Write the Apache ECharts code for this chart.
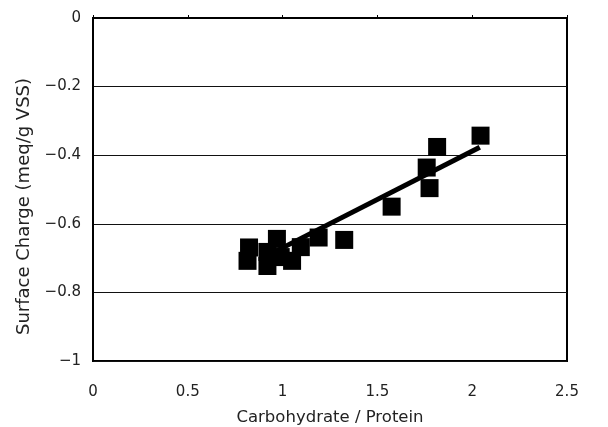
<!DOCTYPE html>
<html>
<head>
<meta charset="utf-8">
<script src="https://cdn.jsdelivr.net/npm/echarts@6/dist/echarts.min.js"></script>
<style>
html,body{margin:0;padding:0;background:#fff;}
#chart{width:608px;height:427px;}
</style>
</head>
<body>
<div id="chart"></div>
<script>
// Data
var ratioX = [0.815, 0.823, 0.92, 0.92, 0.97, 0.99, 1.05, 1.096, 1.19, 1.325, 1.575, 1.76, 1.775, 1.815, 2.044];
var chargeY = [-0.708, -0.669, -0.723, -0.682, -0.644, -0.697, -0.708, -0.668, -0.640, -0.647, -0.550, -0.436, -0.496, -0.376, -0.343];
var trendX = [0.95, 2.04];
var trendY = [-0.684, -0.377];
var xTicks = [0, 0.5, 1, 1.5, 2, 2.5];
var yTicks = [0, -0.2, -0.4, -0.6, -0.8, -1];

var points = ratioX.map(function (x, i) { return [x, chargeY[i]]; });
var trend = trendX.map(function (x, i) { return [x, trendY[i]]; });

var font = '"DejaVu Sans", Verdana, sans-serif';
var chart = echarts.init(document.getElementById('chart'), null, { renderer: 'canvas' });
chart.setOption({
  backgroundColor: '#ffffff',
  animation: false,
  grid: { left: 93, right: 41, top: 18, bottom: 66, containLabel: false, outerBoundsMode: 'none',
    show: true, borderColor: '#000', borderWidth: 2, backgroundColor: 'transparent' },
  xAxis: {
    type: 'value', min: xTicks[0], max: xTicks[xTicks.length - 1], interval: 0.5,
    name: 'Carbohydrate / Protein', nameLocation: 'middle', nameGap: 48,
    nameTextStyle: { fontFamily: font, fontSize: 16.5, color: '#222' },
    axisLine: { show: true, lineStyle: { color: '#000', width: 2 } },
    axisTick: { show: true, inside: true, length: 3, lineStyle: { color: '#000' } },
    axisLabel: { fontFamily: font, fontSize: 15, color: '#222', margin: 24 },
    splitLine: { show: false }
  },
  yAxis: {
    type: 'value', min: yTicks[yTicks.length - 1], max: yTicks[0], interval: 0.2,
    name: 'Surface Charge (meq/g VSS)', nameLocation: 'middle', nameGap: 60, nameRotate: 90,
    nameTextStyle: { fontFamily: font, fontSize: 18, color: '#222', padding: [0, 34, 0, 0] },
    axisLine: { show: true, lineStyle: { color: '#000', width: 2 } },
    axisTick: { show: false },
    axisLabel: { fontFamily: font, fontSize: 15, color: '#222', margin: 12,
      formatter: function (v) { return String(Math.round(v * 10) / 10).replace('-', '\u2212'); } },
    splitLine: { show: true, lineStyle: { color: '#111', width: 1 } }
  },
  series: [
    { type: 'line', data: trend, showSymbol: false, symbol: 'none',
      lineStyle: { color: '#000', width: 5 }, z: 3 },
    { type: 'scatter', data: points, symbol: 'rect', symbolSize: 18,
      itemStyle: { color: '#000', opacity: 1 }, z: 4 }
  ]
});
</script>
</body>
</html>
